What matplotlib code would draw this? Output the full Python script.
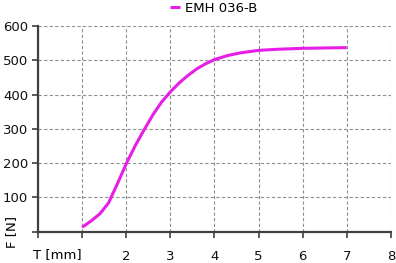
import matplotlib
matplotlib.use('Agg')
import matplotlib.pyplot as plt

# Courbe force / course
series_name = "EMH 036-B"
stroke_mm = [1.0, 1.2, 1.4, 1.6, 1.8, 2.0, 2.2, 2.4, 2.6, 2.8, 3.0, 3.2, 3.4, 3.6, 3.8,
             4.0, 4.3, 4.6, 5.0, 5.4, 6.0, 6.5, 7.0]
force_n = [13, 31, 52, 84, 140, 198, 250, 296, 340, 378, 408, 434, 456, 475, 490,
           502, 514, 522, 529, 532, 535, 536, 537]

x_ticks = [0, 1, 2, 3, 4, 5, 6, 7, 8]
x_tick_labels = ["", "", "2", "3", "4", "5", "6", "7", "8"]
y_ticks = [0, 100, 200, 300, 400, 500, 600]
y_tick_labels = ["", "100", "200", "300", "400", "500", "600"]

plt.rcParams['font.family'] = ['DejaVu Sans']
FS = 9.5

fig = plt.figure(figsize=(3.96, 2.63), dpi=100)
ax = fig.add_axes([0.096, 0.119, 0.891, 0.782])

ax.plot(stroke_mm, force_n, color="#e61ee6", lw=2.2, solid_capstyle="butt",
        solid_joinstyle="round", label=series_name)

ax.set_xlim(0, 8)
ax.set_ylim(0, 600)
ax.set_xticks(x_ticks)
ax.set_xticklabels(x_tick_labels)
ax.set_yticks(y_ticks)
ax.set_yticklabels(y_tick_labels)
ax.tick_params(axis="both", direction="out", length=4, width=1.2, color="#404040",
               labelsize=FS, labelcolor="#111111")
ax.tick_params(axis="x", pad=9.5)
ax.tick_params(axis="y", pad=3)

ax.grid(True, ls=(0, (3, 2)), color="#909090", lw=0.8)
ax.set_axisbelow(True)

for s in ["top", "right"]:
    ax.spines[s].set_visible(False)
for s in ["left", "bottom"]:
    ax.spines[s].set_color("#404040")
    ax.spines[s].set_linewidth(1.6)

# libellés des axes à la place des premières graduations
ax.text(1.0, -0.078, "T [mm]", transform=ax.get_xaxis_transform(), ha="right", va="top", fontsize=FS)
ax.text(-0.074, 0, "F [N]", transform=ax.get_yaxis_transform(), ha="center", va="center",
        rotation=90, fontsize=FS)

fig.legend(*ax.get_legend_handles_labels(), loc="center", bbox_to_anchor=(0.54, 1 - 8.5 / 263),
           frameon=False, fontsize=FS, handlelength=0.7, handletextpad=0.4,
           borderpad=0.1)

plt.savefig("out.png", dpi=100)
